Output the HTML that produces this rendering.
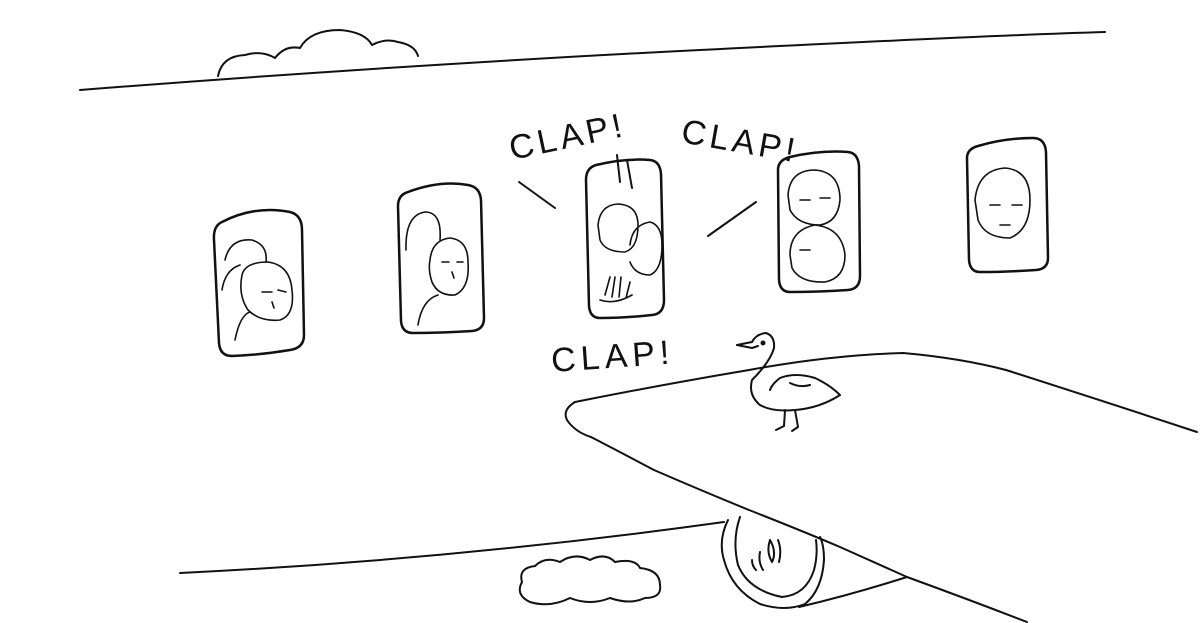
<!DOCTYPE html>
<html><head><meta charset="utf-8"><style>
html,body{margin:0;padding:0;background:#fff;}
svg{display:block}
text{font-family:"Liberation Sans",sans-serif;fill:#111;}
</style></head><body>
<svg width="1200" height="623" viewBox="0 0 1200 623" xmlns="http://www.w3.org/2000/svg" fill="none" stroke="#111" stroke-width="2" stroke-linecap="round" stroke-linejoin="round">
<path d="M80 90 Q400 65 700 50 T1105 32"/>
<path d="M218 76 Q222 56 245 55 Q262 50 275 58 Q285 45 300 48 Q310 30 340 30 Q365 32 372 45 Q385 38 398 42 Q415 45 418 56"/>
<path d="M180 573 Q450 560 724 522"/>
<path d="M530 602 Q515 595 522 582 Q518 568 535 566 Q545 556 560 562 Q575 552 590 560 Q605 552 615 562 Q635 558 640 568 Q660 570 660 585 Q662 598 645 598 Q630 605 610 598 Q590 606 570 598 Q550 608 530 602"/>
<!-- wing -->
<path d="M575 402 Q660 385 749 370 Q830 355 903 353 Q960 358 1006 370 Q1100 400 1197 432"/>
<path d="M575 402 Q562 410 567 420 Q575 432 591 437 Q620 452 654 470 Q700 490 749 510 Q800 530 840 547 Q880 565 907 577 Q970 600 1027 622"/>
<!-- engine -->
<path d="M728 520 Q718 540 724 560 Q732 590 760 604 Q785 612 805 604 Q822 590 824 560 Q824 545 820 537"/>
<path d="M740 517 Q732 540 738 565 Q748 590 782 597 Q806 595 814 570 Q818 555 816 540"/>
<path d="M799 607 Q850 595 907 577"/>
<path d="M770 540 q-4 12 2 22 q5 -10 -2 -22 M760 552 q-2 10 3 18 M778 540 q4 10 1 22 M752 560 q0 6 4 10"/>
<!-- windows -->
<g stroke-width="2.5">
<path d="M222 222 Q255 205 290 212 Q302 215 302 230 L304 335 Q304 348 290 350 Q260 355 232 356 Q220 356 219 343 L214 240 Q213 226 222 222Z"/>
<path d="M408 192 Q440 180 468 185 Q480 187 481 200 L484 318 Q484 330 472 331 Q440 333 413 333 Q402 333 401 321 L398 206 Q398 195 408 192Z"/>
<path d="M596 165 Q625 158 650 160 Q660 161 661 174 L664 300 Q664 314 652 315 Q625 318 600 318 Q590 318 589 306 L586 180 Q586 168 596 165Z"/>
<path d="M790 157 Q820 150 848 152 Q858 153 859 166 L860 276 Q860 289 848 290 Q818 292 790 292 Q780 292 779 280 L778 170 Q778 160 790 157Z"/>
<path d="M978 146 Q1005 138 1033 138 Q1045 138 1046 152 L1048 258 Q1048 269 1036 270 Q1005 272 980 272 Q970 272 969 260 L967 158 Q967 149 978 146Z"/>
</g>
<g stroke-width="1.6">
<path d="M225 260 Q230 238 252 240 Q268 245 266 262 M222 290 Q225 270 240 265 M242 275 Q245 262 268 262 Q290 265 292 290 Q295 315 280 320 Q260 322 248 310 Q238 295 242 275 M235 340 Q240 315 250 312 M262 292 l10 0 M278 290 l8 2 M272 302 l2 6"/>
<path d="M406 250 Q405 215 425 212 Q442 212 440 240 M430 260 Q432 240 450 238 Q468 240 468 262 Q470 288 455 295 Q438 296 432 282 Q428 270 430 260 M418 325 Q422 300 438 295 M442 262 l7 0 M457 262 l6 0 M452 272 l2 6"/>
<path d="M598 225 Q600 205 618 204 Q638 205 638 225 Q638 248 625 252 Q605 252 600 240 Z M630 245 Q632 225 650 222 Q662 225 662 245 Q662 270 650 275 Q635 275 630 262 M605 295 l5 -18 M612 297 l3 -20 M619 297 l2 -20 M626 298 l4 -16 M600 300 Q615 305 632 295"/>
<path d="M788 195 Q790 170 815 170 Q840 172 840 200 Q838 222 820 225 Q798 225 790 210 Z M790 255 Q790 230 815 225 Q842 228 845 255 Q845 278 825 282 Q800 283 792 268 Z M800 200 l10 0 M820 198 l10 0 M800 250 l10 0"/>
<path d="M975 200 Q978 170 1005 168 Q1030 170 1030 200 Q1030 230 1010 238 Q985 238 978 220 Z M990 205 l10 0 M1012 205 l10 0 M1000 225 l10 0"/>
</g>
<path d="M519 182 L555 208 M627 160 L632 188 M617 155 L620 182 M708 236 L756 202"/>
<text x="512" y="160" font-size="34" stroke="none" transform="rotate(-12 512 160)" letter-spacing="4">CLAP!</text>
<text x="680" y="142" font-size="34" stroke="none" transform="rotate(10 680 142)" letter-spacing="4">CLAP!</text>
<text x="552" y="372" font-size="34" stroke="none" transform="rotate(-4 552 372)" letter-spacing="5">CLAP!</text>
<!-- seagull -->
<path d="M737 345 L752 342 Q756 334 766 333 Q775 336 774 348 Q770 362 752 380 Q748 395 760 405 Q772 412 795 410 Q820 408 840 395 Q830 385 815 378 Q795 372 780 378 Q772 384 770 390"/>
<path d="M737 345 L752 348 L758 346"/>
<path d="M790 383 Q800 388 810 385"/>
<circle cx="763" cy="343" r="1.5" fill="#111"/>
<path d="M785 410 L784 426 L776 430 M795 410 L798 427 L792 431"/>
</svg>
</body></html>
